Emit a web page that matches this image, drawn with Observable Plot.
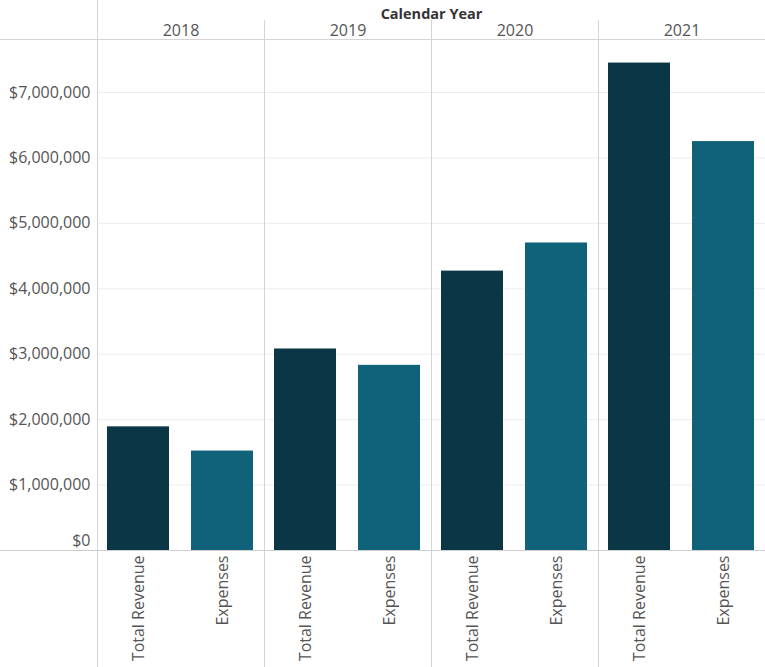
<!DOCTYPE html>
<html><head><meta charset="utf-8">
<script src="https://cdn.jsdelivr.net/npm/d3@7"></script>
<script src="https://cdn.jsdelivr.net/npm/@observablehq/plot@0.6"></script>
<style>
body{margin:0;background:#fff;}
#chart svg{display:block;}
g[aria-label="fx-axis label"] text{font-weight:bold;font-size:14.5px;fill:#333;}
</style></head><body><div id="chart"></div>
<script>
const years = [2018, 2019, 2020, 2021];
const measures = ["Total Revenue", "Expenses"];
const revenue = [1890000, 3080000, 4270000, 7450000];
const expenses = [1520000, 2830000, 4700000, 6250000];
const yTicks = [0, 1000000, 2000000, 3000000, 4000000, 5000000, 6000000, 7000000];
const colors = ["#0b3646", "#0f6279"];

const data = years.flatMap((yr, i) => [
  {year: yr, measure: measures[0], value: revenue[i]},
  {year: yr, measure: measures[1], value: expenses[i]}
]);

const W = 765, H = 667;
const fmt = d3.format("$,");
const plot = Plot.plot({
  width: W, height: H, marginLeft: 97, marginRight: 0, marginTop: 39, marginBottom: 117,
  style: {fontFamily: "'Open Sans', sans-serif", fontSize: "16px", color: "#555", background: "#fff"},
  fx: {domain: years, padding: 0, label: "Calendar Year"},
  x: {domain: measures, paddingInner: 0.26, paddingOuter: 0.12, label: null},
  y: {domain: [0, 7810000], label: null},
  color: {domain: measures, range: colors},
  marks: [
    Plot.gridY(yTicks.slice(1), {stroke: "#ececec", strokeOpacity: 1}),
    Plot.barY(data, {fx: "year", x: "measure", y: "value", fill: "measure"}),
    Plot.axisY(yTicks.slice(1), {anchor: "left", tickSize: 0, tickPadding: 7, tickFormat: fmt, label: null, fontSize: 16}),
    Plot.axisY([0], {anchor: "left", tickSize: 0, tickPadding: 7, tickFormat: fmt, dy: -10, label: null, fontSize: 16}),
    Plot.axisX({tickRotate: -90, tickSize: 0, tickPadding: 5, label: null, fontSize: 16}),
    Plot.axisFx({anchor: "top", tickSize: 0, tickPadding: 4, tickFormat: d => String(d), label: "Calendar Year", labelAnchor: "center", labelOffset: 31, fontSize: 16})
  ]
});

// divider / border lines derived from the scales
const fxS = plot.scale("fx"), yS = plot.scale("y");
const band = d3.scaleBand().domain(fxS.domain).range(fxS.range).padding(0);
const svg = d3.select(plot);
const g = svg.append("g").attr("stroke", "#d4d4d4").attr("stroke-width", 1);
const yTop = Math.min(...yS.range), yBase = yS.apply(0);
years.forEach((yr, i) => {
  const x = Math.round(band(yr)) + 0.5;
  g.append("line").attr("x1", x).attr("x2", x).attr("y1", i === 0 ? 0 : 20).attr("y2", H);
});
g.append("line").attr("x1", 0).attr("x2", W).attr("y1", Math.round(yTop) + 0.5).attr("y2", Math.round(yTop) + 0.5);
g.append("line").attr("x1", 0).attr("x2", W).attr("y1", Math.round(yBase) + 0.5).attr("y2", Math.round(yBase) + 0.5).attr("stroke", "#cfcfcf");

document.getElementById("chart").append(plot);
</script></body></html>
